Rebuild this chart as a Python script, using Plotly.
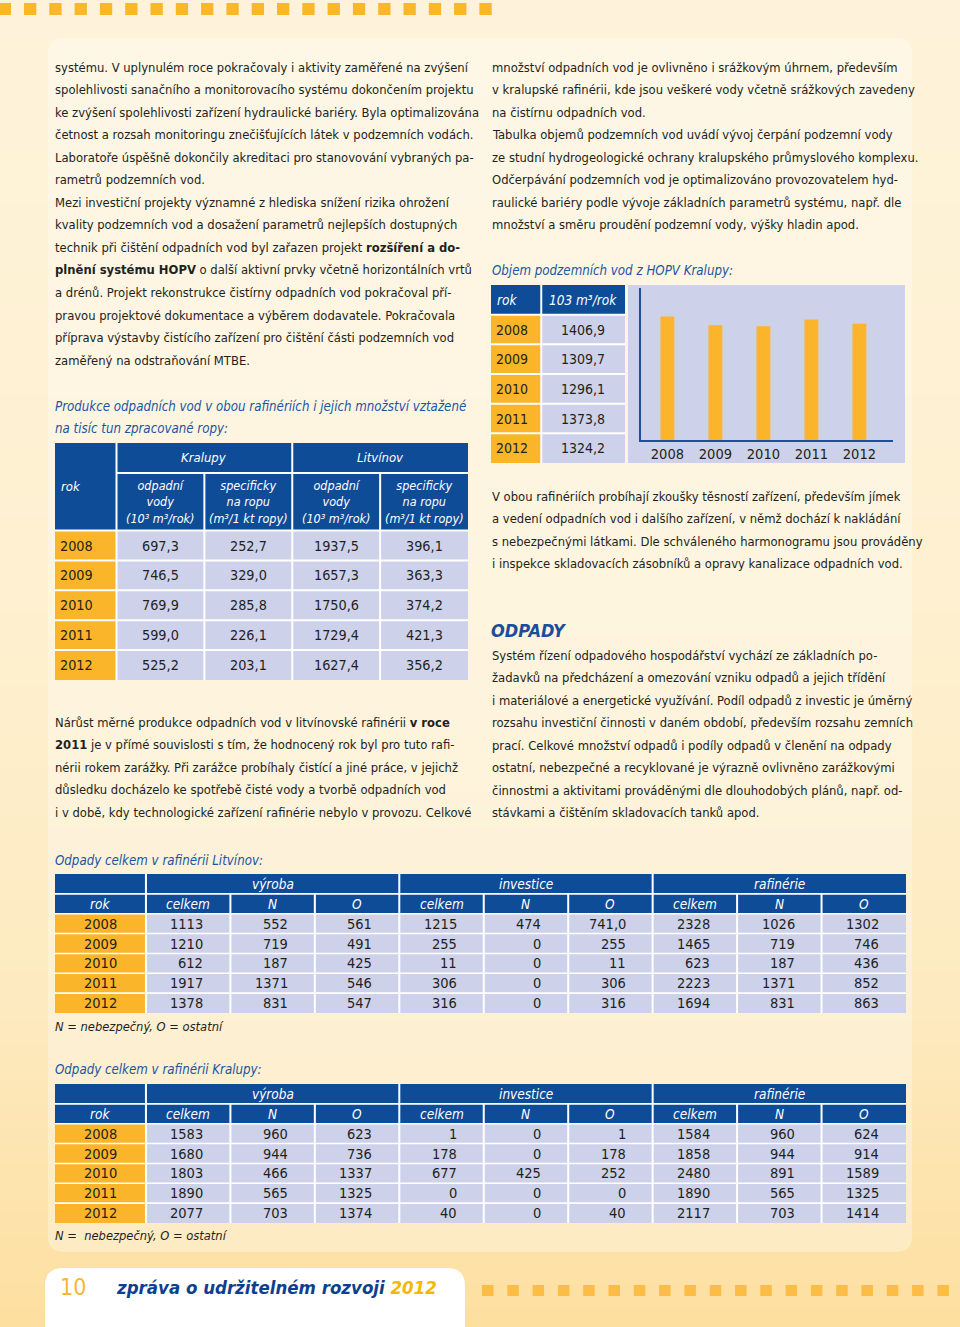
import plotly.graph_objects as go

W, H = 960, 1327

# ---------------- data ----------------
years = [2008, 2009, 2010, 2011, 2012]

# Objem podzemních vod z HOPV Kralupy (10^3 m3/rok)
hopv_kralupy = [1406.9, 1309.7, 1296.1, 1373.8, 1324.2]

# Produkce odpadních vod
prod_kralupy_odpadni = [697.3, 746.5, 769.9, 599.0, 525.2]
prod_kralupy_spec = [252.7, 329.0, 285.8, 226.1, 203.1]
prod_litvinov_odpadni = [1937.5, 1657.3, 1750.6, 1729.4, 1627.4]
prod_litvinov_spec = [396.1, 363.3, 374.2, 421.3, 356.2]

# Odpady celkem v rafinérii Litvínov
lit_vyroba_celkem = [1113, 1210, 612, 1917, 1378]
lit_vyroba_n = [552, 719, 187, 1371, 831]
lit_vyroba_o = [561, 491, 425, 546, 547]
lit_investice_celkem = [1215, 255, 11, 306, 316]
lit_investice_n = [474, 0, 0, 0, 0]
lit_investice_o = [741.0, 255, 11, 306, 316]
lit_rafinerie_celkem = [2328, 1465, 623, 2223, 1694]
lit_rafinerie_n = [1026, 719, 187, 1371, 831]
lit_rafinerie_o = [1302, 746, 436, 852, 863]

# Odpady celkem v rafinérii Kralupy
kra_vyroba_celkem = [1583, 1680, 1803, 1890, 2077]
kra_vyroba_n = [960, 944, 466, 565, 703]
kra_vyroba_o = [623, 736, 1337, 1325, 1374]
kra_investice_celkem = [1, 178, 677, 0, 40]
kra_investice_n = [0, 0, 425, 0, 0]
kra_investice_o = [1, 178, 252, 0, 40]
kra_rafinerie_celkem = [1584, 1858, 2480, 1890, 2117]
kra_rafinerie_n = [960, 944, 891, 565, 703]
kra_rafinerie_o = [624, 914, 1589, 1325, 1414]

waste_groups = ["výroba", "investice", "rafinérie"]
waste_subcols = ["celkem", "N", "O"]

prod_groups = ["Kralupy", "Litvínov"]
prod_subheads = ["odpadní<br>vody<br>(10³ m³/rok)",
                 "specificky<br>na ropu<br>(m³/1 kt ropy)"]

# ---------------- texts ----------------
left_para1 = [
    "systému. V uplynulém roce pokračovaly i aktivity zaměřené na zvýšení",
    "spolehlivosti sanačního a monitorovacího systému dokončením projektu",
    "ke zvýšení spolehlivosti zařízení hydraulické bariéry. Byla optimalizována",
    "četnost a rozsah monitoringu znečišťujících látek v podzemních vodách.",
    "Laboratoře úspěšně dokončily akreditaci pro stanovování vybraných pa-",
    "rametrů podzemních vod.",
    "Mezi investiční projekty významné z hlediska snížení rizika ohrožení",
    "kvality podzemních vod a dosažení parametrů nejlepších dostupných",
    "technik při čištění odpadních vod byl zařazen projekt <b>rozšíření a do-</b>",
    "<b>plnění systému HOPV</b> o další aktivní prvky včetně horizontálních vrtů",
    "a drénů. Projekt rekonstrukce čistírny odpadních vod pokračoval pří-",
    "pravou projektové dokumentace a výběrem dodavatele. Pokračovala",
    "příprava výstavby čistícího zařízení pro čištění části podzemních vod",
    "zaměřený na odstraňování MTBE.",
]
left_para2 = [
    "Nárůst měrné produkce odpadních vod v litvínovské rafinérii <b>v roce</b>",
    "<b>2011</b> je v přímé souvislosti s tím, že hodnocený rok byl pro tuto rafi-",
    "nérii rokem zarážky. Při zarážce probíhaly čistící a jiné práce, v jejichž",
    "důsledku docházelo ke spotřebě čisté vody a tvorbě odpadních vod",
    "i v době, kdy technologické zařízení rafinérie nebylo v provozu. Celkové",
]
right_para1 = [
    "množství odpadních vod je ovlivněno i srážkovým úhrnem, především",
    "v kralupské rafinérii, kde jsou veškeré vody včetně srážkových zavedeny",
    "na čistírnu odpadních vod.",
    "Tabulka objemů podzemních vod uvádí vývoj čerpání podzemní vody",
    "ze studní hydrogeologické ochrany kralupského průmyslového komplexu.",
    "Odčerpávání podzemních vod je optimalizováno provozovatelem hyd-",
    "raulické bariéry podle vývoje základních parametrů systému, např. dle",
    "množství a směru proudění podzemní vody, výšky hladin apod.",
]
right_para2 = [
    "V obou rafinériích probíhají zkoušky těsností zařízení, především jímek",
    "a vedení odpadních vod i dalšího zařízení, v němž dochází k nakládání",
    "s nebezpečnými látkami. Dle schváleného harmonogramu jsou prováděny",
    "i inspekce skladovacích zásobníků a opravy kanalizace odpadních vod.",
]
right_para3 = [
    "Systém řízení odpadového hospodářství vychází ze základních po-",
    "žadavků na předcházení a omezování vzniku odpadů a jejich třídění",
    "i materiálové a energetické využívání. Podíl odpadů z investic je úměrný",
    "rozsahu investiční činnosti v daném období, především rozsahu zemních",
    "prací. Celkové množství odpadů i podíly odpadů v členění na odpady",
    "ostatní, nebezpečné a recyklované je výrazně ovlivněno zarážkovými",
    "činnostmi a aktivitami prováděnými dle dlouhodobých plánů, např. od-",
    "stávkami a čištěním skladovacích tanků apod.",
]

# ---------------- style ----------------
FONT = "DejaVu Sans Condensed, DejaVu Sans, sans-serif"
NAVY = "#0f4c98"
LAV = "#cdd2ea"
ORANGE = "#fbb52b"
TITLE_BLUE = "#1a55a3"
TEXT = "#231f20"
BODY = 12.9
TITLE = 13.2
LINE = 22.55


def fmt(v):
    if isinstance(v, float):
        return f"{v:.1f}".replace(".", ",")
    return str(v)


shapes = []
annotations = []


def text(x, y, s, size=BODY, color=TEXT, xanchor="left", italic=False,
         weight="normal", xref="x", yref="y"):
    annotations.append(dict(
        x=x, y=y, xref=xref, yref=yref, text=s, showarrow=False,
        xanchor=xanchor, yanchor="middle", borderpad=0, borderwidth=0,
        align="center" if xanchor == "center" else "left",
        font=dict(family=FONT, size=size, color=color,
                  style="italic" if italic else "normal", weight=weight)))


def rect(x0, y0, x1, y1, color, xref="x", yref="y"):
    shapes.append(dict(type="rect", xref=xref, yref=yref, x0=x0, x1=x1, y0=y0, y1=y1,
                       fillcolor=color, line=dict(width=0), layer="below"))


def rounded(x0, y0, x1, y1, r, color):
    path = (f"M {x0 + r},{y0} L {x1 - r},{y0} Q {x1},{y0} {x1},{y0 + r} "
            f"L {x1},{y1 - r} Q {x1},{y1} {x1 - r},{y1} L {x0 + r},{y1} "
            f"Q {x0},{y1} {x0},{y1 - r} L {x0},{y0 + r} Q {x0},{y0} {x0 + r},{y0} Z")
    shapes.append(dict(type="path", xref="x", yref="y", path=path,
                       fillcolor=color, line=dict(width=0), layer="below"))


# ---------------- page background ----------------
stops = [(0, (254, 243, 218)), (600, (254, 240, 208)), (1000, (253, 234, 192)),
         (1327, (253, 223, 160))]


def bg_color(y):
    for (ya, ca), (yb, cb) in zip(stops[:-1], stops[1:]):
        if ya <= y <= yb:
            t = (y - ya) / (yb - ya)
            c = [round(a + (b - a) * t) for a, b in zip(ca, cb)]
            return f"rgb({c[0]},{c[1]},{c[2]})"
    c = stops[-1][1]
    return f"rgb({c[0]},{c[1]},{c[2]})"


band = 12
for y0 in range(0, H, band):
    rect(0, y0, W, min(y0 + band + 1, H), bg_color(y0 + band / 2))

rounded(48, 38, 912, 1252, 16, "rgba(255,255,255,0.33)")
rounded(45, 1268, 465, 1360, 18, "#ffffff")

for i in range(20):
    x0 = -1.3 + 25.3 * i
    rect(x0, 3, x0 + 12.3, 15, "#fbb727")
for i in range(19):
    x0 = 482 + 25.3 * i
    rect(x0, 1285, x0 + 11.5, 1296, "#fbbd45")

# ---------------- body texts ----------------
for i, s in enumerate(left_para1):
    text(55, 67 + LINE * i, s)
for i, s in enumerate(left_para2):
    text(55, 722 + LINE * i, s)
for i, s in enumerate(right_para1):
    text(492, 67 + LINE * i, s)
for i, s in enumerate(right_para2):
    text(492, 496 + LINE * i, s)
for i, s in enumerate(right_para3):
    text(492, 655 + LINE * i, s)

text(491, 630, "ODPADY", size=18, color="#1a4e9c", italic=True, weight="bold")

text(55, 406, "Produkce odpadních vod v obou rafinériích i jejich množství vztažené",
     size=TITLE, color=TITLE_BLUE, italic=True)
text(55, 428, "na tisíc tun zpracované ropy:", size=TITLE, color=TITLE_BLUE, italic=True)
text(492, 270, "Objem podzemních vod z HOPV Kralupy:", size=TITLE, color=TITLE_BLUE, italic=True)
text(55, 860, "Odpady celkem v rafinérii Litvínov:", size=TITLE, color=TITLE_BLUE, italic=True)
text(55, 1069, "Odpady celkem v rafinérii Kralupy:", size=TITLE, color=TITLE_BLUE, italic=True)
text(55, 1026, "N = nebezpečný, O = ostatní", size=12.8, italic=True)
text(55, 1235, "N =  nebezpečný, O = ostatní", size=12.8, italic=True)

# footer
text(60, 1287, "10", size=23, color="#f6b834", weight="normal")
text(116, 1287, "zpráva o udržitelném rozvoji <span style='color:#f5b800'>2012</span>",
     size=18.5, color="#0e3f8f", italic=True, weight="bold")

# ---------------- axes bookkeeping ----------------
axes = {
    "xaxis": dict(domain=[0, 1], range=[0, W], visible=False, fixedrange=True),
    "yaxis": dict(domain=[0, 1], range=[H, 0], visible=False, fixedrange=True),
}


def add_table_axes(n, px0, py0, px1, py1, xr, yr):
    axes[f"xaxis{n}"] = dict(domain=[px0 / W, px1 / W], range=[0, xr], visible=False,
                             fixedrange=True, anchor=f"y{n}")
    axes[f"yaxis{n}"] = dict(domain=[1 - py1 / H, 1 - py0 / H], range=[yr, 0],
                             visible=False, fixedrange=True, anchor=f"x{n}")


def cum(widths):
    e = [0]
    for w in widths:
        e.append(e[-1] + w)
    return e


def cell(n, xe, ye, c0, c1, r0, r1, color, gx, gy):
    x0 = xe[c0] + (gx / 2 if c0 > 0 else 0)
    x1 = xe[c1] - (gx / 2 if c1 < len(xe) - 1 else 0)
    y0 = ye[r0] + (gy / 2 if r0 > 0 else 0)
    y1 = ye[r1] - (gy / 2 if r1 < len(ye) - 1 else 0)
    rect(x0, y0, x1, y1, color, xref=f"x{n}", yref=f"y{n}")


def ttext(n, x, y, s, size=14, color=TEXT, xanchor="center", italic=False):
    text(x, y, s, size=size, color=color, xanchor=xanchor, italic=italic,
         xref=f"x{n}", yref=f"y{n}")


HEAD = 13

# ---------------- table: produkce odpadních vod ----------------
n = 3
px0, py0, px1, py1 = 55, 443, 468, 680
colw = [0.7, 1, 1, 1, 1]
rowh = [1, 1.93] + [1] * len(years)
xe, ye = cum(colw), cum(rowh)
add_table_axes(n, px0, py0, px1, py1, xe[-1], ye[-1])
upx = (px1 - px0) / xe[-1]
upy = (py1 - py0) / ye[-1]
gx, gy = 2 / upx, 2 / upy
rect(0, 0, xe[-1], ye[-1], "#ffffff", xref=f"x{n}", yref=f"y{n}")
cell(n, xe, ye, 0, 1, 0, 2, NAVY, gx, gy)
ttext(n, 6 / upx, (ye[0] + ye[2]) / 2, "rok", color="white", xanchor="left", italic=True, size=HEAD)
for g, name in enumerate(prod_groups):
    c0 = 1 + 2 * g
    cell(n, xe, ye, c0, c0 + 2, 0, 1, NAVY, gx, gy)
    ttext(n, (xe[c0] + xe[c0 + 2]) / 2, 0.5, name, color="white", italic=True, size=HEAD)
    for k in range(2):
        c = c0 + k
        cell(n, xe, ye, c, c + 1, 1, 2, NAVY, gx, gy)
        ttext(n, (xe[c] + xe[c + 1]) / 2, (ye[1] + ye[2]) / 2, prod_subheads[k],
              color="white", italic=True, size=12.5)
prod_cols = [prod_kralupy_odpadni, prod_kralupy_spec, prod_litvinov_odpadni, prod_litvinov_spec]
for r, yr in enumerate(years):
    rr = r + 2
    ymid = (ye[rr] + ye[rr + 1]) / 2
    cell(n, xe, ye, 0, 1, rr, rr + 1, ORANGE, gx, gy)
    ttext(n, 5 / upx, ymid, str(yr), xanchor="left", size=14.3)
    for c, col in enumerate(prod_cols, start=1):
        cell(n, xe, ye, c, c + 1, rr, rr + 1, LAV, gx, gy)
        ttext(n, (xe[c] + xe[c + 1]) / 2, ymid, fmt(col[r]), size=14.3)


# ---------------- waste tables ----------------
def waste_table(n, top, cols):
    px0, px1 = 55, 906
    py0, py1 = top, top + 139
    colw = [1.077] + [1] * 9
    rowh = [1, 1] + [1] * len(years)
    xe, ye = cum(colw), cum(rowh)
    add_table_axes(n, px0, py0, px1, py1, xe[-1], ye[-1])
    upx = (px1 - px0) / xe[-1]
    upy = (py1 - py0) / ye[-1]
    gx, gy = 2 / upx, 1.6 / upy
    rect(0, 0, xe[-1], ye[-1], "#ffffff", xref=f"x{n}", yref=f"y{n}")
    cell(n, xe, ye, 0, 1, 0, 1, NAVY, gx, gy)
    for g, name in enumerate(waste_groups):
        c0 = 1 + 3 * g
        cell(n, xe, ye, c0, c0 + 3, 0, 1, NAVY, gx, gy)
        ttext(n, (xe[c0] + xe[c0 + 3]) / 2, 0.5, name, color="white", italic=True, size=13.5)
    cell(n, xe, ye, 0, 1, 1, 2, NAVY, gx, gy)
    ttext(n, (xe[0] + xe[1]) / 2, 1.5, "rok", color="white", italic=True, size=13.5)
    for c in range(1, 10):
        cell(n, xe, ye, c, c + 1, 1, 2, NAVY, gx, gy)
        ttext(n, (xe[c] + xe[c + 1]) / 2, 1.5, waste_subcols[(c - 1) % 3],
              color="white", italic=True, size=13.5)
    for r, yr in enumerate(years):
        rr = r + 2
        ymid = rr + 0.5
        cell(n, xe, ye, 0, 1, rr, rr + 1, ORANGE, gx, gy)
        ttext(n, (xe[0] + xe[1]) / 2, ymid, str(yr), size=14.5)
        for c, col in enumerate(cols, start=1):
            cell(n, xe, ye, c, c + 1, rr, rr + 1, LAV, gx, gy)
            ttext(n, xe[c + 1] - 27 / upx, ymid, fmt(col[r]), xanchor="right", size=14.5)


waste_table(4, 874, [lit_vyroba_celkem, lit_vyroba_n, lit_vyroba_o,
                     lit_investice_celkem, lit_investice_n, lit_investice_o,
                     lit_rafinerie_celkem, lit_rafinerie_n, lit_rafinerie_o])
waste_table(5, 1084, [kra_vyroba_celkem, kra_vyroba_n, kra_vyroba_o,
                      kra_investice_celkem, kra_investice_n, kra_investice_o,
                      kra_rafinerie_celkem, kra_rafinerie_n, kra_rafinerie_o])

# ---------------- small HOPV table ----------------
n = 6
px0, py0, px1, py1 = 491, 285, 625, 463
colw = [0.6, 1]
rowh = [1] * (len(years) + 1)
xe, ye = cum(colw), cum(rowh)
add_table_axes(n, px0, py0, px1, py1, xe[-1], ye[-1])
upx = (px1 - px0) / xe[-1]
upy = (py1 - py0) / ye[-1]
gx, gy = 2 / upx, 2 / upy
rect(0, 0, xe[-1], ye[-1], "#ffffff", xref=f"x{n}", yref=f"y{n}")
cell(n, xe, ye, 0, 1, 0, 1, NAVY, gx, gy)
cell(n, xe, ye, 1, 2, 0, 1, NAVY, gx, gy)
ttext(n, 6 / upx, 0.5, "rok", color="white", xanchor="left", italic=True, size=13.5)
ttext(n, (xe[1] + xe[2]) / 2, 0.5, "103 m³/rok", color="white", italic=True, size=13.5)
for r, yr in enumerate(years):
    rr = r + 1
    cell(n, xe, ye, 0, 1, rr, rr + 1, ORANGE, gx, gy)
    cell(n, xe, ye, 1, 2, rr, rr + 1, LAV, gx, gy)
    ttext(n, 5 / upx, rr + 0.5, str(yr), xanchor="left", size=14)
    ttext(n, (xe[1] + xe[2]) / 2, rr + 0.5, fmt(hopv_kralupy[r]), size=14)

# chart background box
rect(628, 285, 905, 463, LAV)

# ---------------- bar chart ----------------
fig = go.Figure()
fig.add_trace(go.Bar(
    x=[str(y) for y in years], y=hopv_kralupy, xaxis="x2", yaxis="y2",
    marker=dict(color=ORANGE, line=dict(width=0)), width=0.29,
    hoverinfo="x+y", showlegend=False))

AXC = "#1f4f9a"
axes["xaxis2"] = dict(domain=[641 / W, 893 / W], anchor="y2", type="category",
                      range=[-0.55, 4.7], showline=True, linecolor=AXC, linewidth=1.5,
                      ticks="", showgrid=False, zeroline=False, fixedrange=True,
                      tickfont=dict(family=FONT, size=14.5, color=TEXT))
axes["yaxis2"] = dict(domain=[1 - 440 / H, 1 - 288 / H], anchor="x2", range=[0, 1733],
                      showline=True, linecolor=AXC, linewidth=1.5, ticks="",
                      showticklabels=False, showgrid=False, zeroline=False, fixedrange=True)

fig.update_layout(
    width=W, height=H, margin=dict(l=0, r=0, t=0, b=0),
    paper_bgcolor="#fef3da", plot_bgcolor="rgba(0,0,0,0)",
    shapes=shapes, annotations=annotations, showlegend=False,
    font=dict(family=FONT, color=TEXT), **axes)

fig.write_html("out.html", config={"displayModeBar": False},
               post_script="document.body.style.margin='0';document.body.style.padding='0';")
